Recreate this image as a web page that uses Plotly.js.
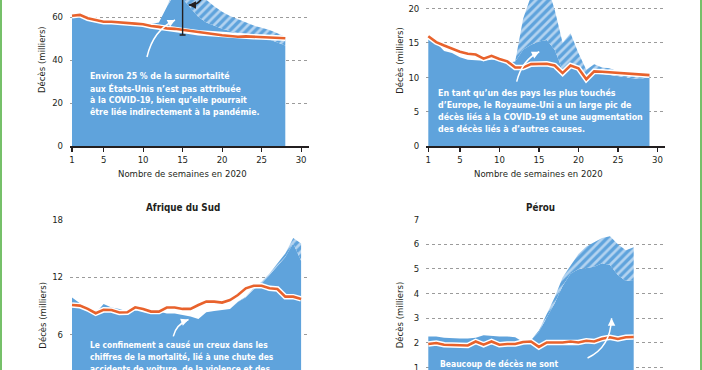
<!DOCTYPE html>
<html><head><meta charset="utf-8">
<script src="https://cdn.plot.ly/plotly-3.0.1.min.js"></script>
<style>
html,body{margin:0;padding:0;width:702px;height:370px;overflow:hidden;background:#fff;}
#wrap{position:absolute;left:0;top:-40px;width:702px;height:480px;}
.edge{position:absolute;top:0;width:2px;height:370px;background:#76c069;}
</style></head><body>
<div id="wrap"><div id="chart" style="width:702px;height:480px;"></div></div>
<div class="edge" style="left:0"></div><div class="edge" style="left:700px"></div>
<script>
// ---------- DATA (thousands of deaths per week, 2020) ----------
const usWeeks     = [1,2,3,4,5,6,7,8,9,10,11,12,13,14,15,16,17,18,19,20,21,22,23,24,25,26,27,28];
const usExpected  = [60.6,61.0,59.4,58.6,57.8,57.8,57.6,57.1,56.9,56.6,55.8,55.4,54.7,54.5,54.0,53.2,52.7,52.4,51.9,51.5,51.2,50.8,51.0,50.8,50.7,50.5,50.4,50.1];
const usTotal     = [59.8,60.2,58.5,57.8,57.4,57.3,57.2,57.5,57.6,57.4,56.8,57.5,64.6,74.0,79.0,77.5,73.0,68.0,65.0,62.5,60.5,59.0,57.5,56.0,55.0,54.0,52.5,50.7];
const usNonCovid  = [59.8,60.2,58.5,57.8,57.4,57.3,57.2,57.5,57.6,57.4,56.8,57.5,64.6,71.0,68.5,64.0,60.0,57.5,56.0,54.5,53.5,52.5,52.0,51.5,51.0,49.5,48.0,46.8];
const usErrWeek = [15], usErrLow = [51.6], usErrHigh = [90];

const ukWeeks     = [1,2,3,4,5,6,7,8,9,10,11,12,13,14,15,16,17,18,19,20,21,22,23,24,25,26,27,28,29];
const ukExpected  = [15.96,15.1,14.6,14.1,13.7,13.4,13.3,12.7,13.1,12.65,12.3,11.4,11.4,11.9,11.95,11.95,11.7,10.6,11.7,11.3,9.7,10.85,10.8,10.7,10.6,10.55,10.45,10.4,10.3];
const ukTotal     = [15.7,15.0,13.8,13.5,12.9,12.55,12.45,12.4,12.55,12.55,12.1,12.3,18.5,21.8,24.0,23.5,19.8,15.0,16.4,13.5,11.1,11.9,11.4,11.3,10.8,10.6,10.4,10.3,10.2];
const ukNonCovid  = [15.7,15.0,13.8,13.5,12.9,12.55,12.45,12.4,12.55,12.55,12.1,12.3,14.0,14.7,15.2,15.4,14.0,11.0,12.0,11.2,9.6,10.6,10.5,10.3,10.2,10.0,9.8,9.8,10.0];

const zaWeeks     = [1,2,3,4,5,6,7,8,9,10,11,12,13,14,15,16,17,18,19,20,21,22,23,24,25,26,27,28,29,30];
const zaExpected  = [9.08,9.01,8.67,8.22,8.57,8.55,8.29,8.32,8.84,8.67,8.39,8.39,8.81,8.81,8.67,8.67,9.08,9.43,9.43,9.33,9.6,10.12,10.82,11.09,11.09,10.82,10.75,9.95,9.95,9.71];
const zaTotal     = [9.85,9.26,8.57,8.22,9.19,8.81,8.67,8.39,9.08,8.74,8.39,8.39,8.2,8.2,8.04,7.87,7.62,8.32,8.46,8.56,8.67,9.43,9.95,10.82,11.5,12.37,13.4,14.46,16.08,15.5];
const zaNonCovid  = [9.85,9.26,8.57,8.22,9.19,8.81,8.67,8.39,9.08,8.74,8.39,8.39,8.2,8.2,8.04,7.87,7.62,8.32,8.46,8.56,8.67,9.4,9.88,10.7,11.35,12.2,13.15,14.1,15.5,13.7];

const peWeeks     = [1,2,3,4,5,6,7,8,9,10,11,12,13,14,15,16,17,18,19,20,21,22,23,24,25,26,27];
const peExpected  = [1.95,1.99,1.92,1.92,1.89,1.89,2.05,1.92,2.05,1.92,1.95,1.95,2.03,2.05,1.83,2.01,2.01,2.01,2.05,2.01,2.08,2.05,2.16,2.22,2.15,2.22,2.23];
const peTotal     = [2.25,2.25,2.2,2.17,2.17,2.17,2.2,2.3,2.27,2.25,2.25,2.22,2.03,2.1,2.5,3.2,3.85,4.65,5.15,5.6,5.9,6.08,6.25,6.32,6.0,5.75,5.87];
const peNonCovid  = [2.25,2.25,2.2,2.17,2.17,2.17,2.2,2.3,2.27,2.25,2.25,2.22,2.03,2.1,2.45,3.0,3.6,4.3,4.8,4.98,5.03,5.08,5.22,5.15,4.75,4.5,4.55];

const xTicks = [1,5,10,15,20,25,30];
const usTicks = [0,20,40,60], ukTicks = [0,5,10,15,20], zaTicks = [6,12,18], peTicks = [1,2,3,4,5,6,7];
const xTitle = 'Nombre de semaines en 2020';
const yTitle = 'Décès (milliers)';
const titleZA = 'Afrique du Sud', titlePE = 'Pérou';
const noteUS = ['Environ 25 % de la surmortalité','aux États-Unis n\u2019est pas attribuée','à la COVID-19, bien qu\u2019elle pourrait','être liée indirectement à la pandémie.'];
const noteUK = ['En tant qu\u2019un des pays les plus touchés','d\u2019Europe, le Royaume-Uni a un large pic de','décès liés à la COVID-19 et une augmentation','des décès liés à d\u2019autres causes.'];
const noteZA = ['Le confinement a causé un creux dans les','chiffres de la mortalité, lié à une chute des','accidents de voiture, de la violence et des'];
const notePE = ['Beaucoup de décès ne sont'];

// ---------- STYLE ----------
const FONT = '"DejaVu Sans Condensed","DejaVu Sans",sans-serif';
const TXT = '#231f20', BLUE = '#5fa3dc', LIGHT = '#b3d3f0', ORANGE = '#e8622c';
const H = 480, T = 14, B = 48, OFF = 40, PH = H - T - B;
const px = x => x / 702;
const py = y => (H - B - (y + OFF)) / PH;

const traces = [];
function panel(n, wk, non, tot, exp) {
  const xa = 'x' + (n === 1 ? '' : n), ya = 'y' + (n === 1 ? '' : n);
  traces.push({x: wk, y: non, xaxis: xa, yaxis: ya, mode: 'lines', line: {width: 0, color: BLUE}, fill: 'tozeroy', fillcolor: BLUE, hoverinfo: 'skip'});
  traces.push({x: wk, y: tot, xaxis: xa, yaxis: ya, mode: 'lines', line: {width: 0, color: BLUE}, fill: 'tonexty', fillcolor: BLUE,
    fillpattern: {shape: '/', bgcolor: BLUE, fgcolor: LIGHT, size: 6, solidity: 0.45}, hoverinfo: 'skip'});
  traces.push({x: wk, y: exp, xaxis: xa, yaxis: ya, mode: 'lines', line: {width: 5.5, color: '#ffffff'}, hoverinfo: 'skip'});
  traces.push({x: wk, y: exp, xaxis: xa, yaxis: ya, mode: 'lines', line: {width: 2.6, color: ORANGE}, hoverinfo: 'skip'});
}
panel(1, usWeeks, usNonCovid, usTotal, usExpected);
panel(2, ukWeeks, ukNonCovid, ukTotal, ukExpected);
panel(3, zaWeeks, zaNonCovid, zaTotal, zaExpected);
panel(4, peWeeks, peNonCovid, peTotal, peExpected);
traces.push({x: usErrWeek, y: usErrLow, mode: 'markers', marker: {size: 1, color: 'rgba(0,0,0,0)'},
  error_y: {type: 'data', symmetric: false, array: usErrHigh.map((h, i) => h - usErrLow[i]), arrayminus: [0], color: TXT, thickness: 1.4, width: 3}, hoverinfo: 'skip'});

const tf = {family: FONT, size: 9.5, color: TXT};
function xax(dom, anchor, show) {
  return {domain: dom, anchor: anchor, range: [0.747, 31], tickvals: xTicks, ticks: 'outside', ticklen: 4, tickwidth: 1.2, tickcolor: TXT,
    showline: true, linecolor: TXT, linewidth: 1.5, showgrid: false, zeroline: false, tickfont: tf, showticklabels: show};
}
function yax(dom, anchor, range, tv) {
  return {domain: dom, anchor: anchor, range: range, tickvals: tv, showgrid: true, gridcolor: '#9b9b9b', griddash: 'dot', gridwidth: 1,
    zeroline: false, showline: false, ticks: '', ticklabelstandoff: 6, tickfont: tf};
}
const LX = [70 / 702, 309 / 702], RX = [426.3 / 702, 665.3 / 702];
const TOP = [py(146), 1], BOT = [0, py(219.5)];

const ann = [];
function note(lines, x0, y0, step, size) {
  lines.forEach((t, i) => ann.push({text: t, xref: 'paper', yref: 'paper', x: px(x0), y: py(y0 + i * step), xanchor: 'left', yanchor: 'middle',
    showarrow: false, font: {family: FONT, size: size, color: '#ffffff', weight: 'bold'}}));
}
note(noteUS, 87.5, 76, 12.1, 8.7);
note(noteUK, 435.5, 92.7, 12.2, 8.8);
note(noteZA, 87.5, 345, 11.8, 8.4);
note(notePE, 437.5, 364.3, 12, 8.5);
function label(t, x, y, size, bold, angle) {
  ann.push({text: t, xref: 'paper', yref: 'paper', x: px(x), y: py(y), xanchor: 'center', yanchor: 'middle', showarrow: false,
    textangle: angle || 0, font: {family: FONT, size: size, color: TXT, weight: bold ? 'bold' : 'normal'}});
}
label(titleZA, 183.5, 207.5, 9.8, true);
label(titlePE, 540, 207.5, 9.8, true);
label(xTitle, 182.5, 173, 9.5);
label(xTitle, 538.5, 173, 9.5);
label(yTitle, 42, 60, 9.5, false, -90);
label(yTitle, 399.3, 60.5, 9.5, false, -90);
label(yTitle, 41.7, 315, 9.5, false, -90);
label(yTitle, 399.3, 315, 9.5, false, -90);

// arrowheads
function head(xr, yr, x, y, ax, ay, col) {
  ann.push({text: '', xref: xr, yref: yr, x: x, y: y, ax: ax, ay: ay, showarrow: true, arrowhead: 2, arrowsize: 1, arrowwidth: 1.5, arrowcolor: col, font: {size: 1}});
}
head('x', 'y', 14.05, 58.6, -8, 4, '#ffffff');
head('x2', 'y2', 15.05, 13.7, -8, 4, '#ffffff');
head('x3', 'y3', 15.75, 7.56, -8, 3, '#ffffff');
head('x4', 'y4', 24.2, 2.99, 0, 8, '#ffffff');
head('x', 'y', 15.75, 65.6, 6, 0, TXT);

const shapes = [
  {type: 'path', xref: 'x', yref: 'y', path: 'M 10.49,41.4 Q 11.3,54 14.04,58.6', line: {color: '#ffffff', width: 1.5}},
  {type: 'path', xref: 'x2', yref: 'y2', path: 'M 12.19,9.35 Q 12.86,12.5 15.05,13.7', line: {color: '#ffffff', width: 1.5}},
  {type: 'path', xref: 'x3', yref: 'y3', path: 'M 13.82,5.81 Q 14.16,7.03 15.75,7.56', line: {color: '#ffffff', width: 1.5}},
  {type: 'path', xref: 'x4', yref: 'y4', path: 'M 21.16,1.38 Q 24.06,1.8 24.2,2.99', line: {color: '#ffffff', width: 1.5}},
  {type: 'path', xref: 'x', yref: 'y', path: 'M 17.6,70 Q 17.1,65.2 15.8,65.6', line: {color: TXT, width: 1.5}}
];

const layout = {
  width: 702, height: H, margin: {l: 0, r: 0, t: T, b: B}, paper_bgcolor: '#fff', plot_bgcolor: '#fff', showlegend: false,
  font: {family: FONT, size: 9.5, color: TXT},
  xaxis: xax(LX, 'y', true), yaxis: yax(TOP, 'x', [0, 80], usTicks),
  xaxis2: xax(RX, 'y2', true), yaxis2: yax(TOP, 'x2', [0, 25], ukTicks),
  xaxis3: xax(LX, 'y3', false), yaxis3: yax(BOT, 'x3', [0, 18], zaTicks),
  xaxis4: xax(RX, 'y4', false), yaxis4: yax(BOT, 'x4', [0, 7], peTicks),
  annotations: ann, shapes: shapes
};
Plotly.newPlot('chart', traces, layout, {displayModeBar: false, staticPlot: true});
</script>
</body></html>
